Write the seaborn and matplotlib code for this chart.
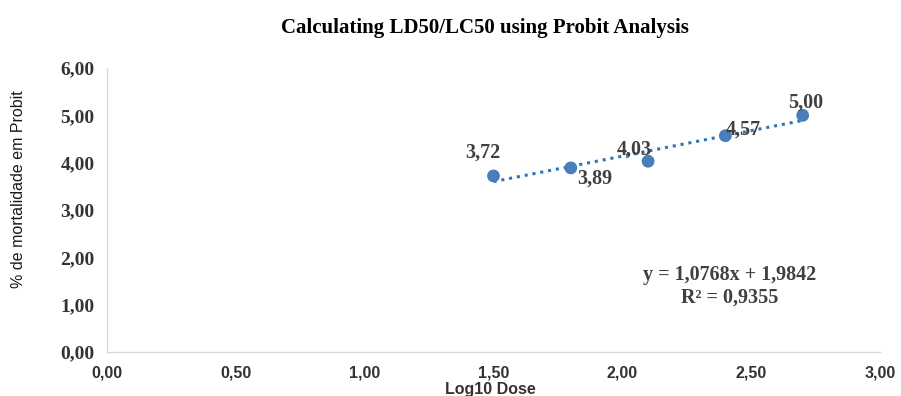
import matplotlib
matplotlib.use("Agg")
import matplotlib.pyplot as plt
import seaborn as sns
import pandas as pd

# Data
log_dose = [1.50, 1.80, 2.10, 2.40, 2.70]
probit = [3.72, 3.89, 4.03, 4.57, 5.00]
point_labels = ["3,72", "3,89", "4,03", "4,57", "5,00"]
slope = 1.0768
intercept = 1.9842
r_squared = 0.9355
x_ticks = [0.0, 0.5, 1.0, 1.5, 2.0, 2.5, 3.0]
y_ticks = [0, 1, 2, 3, 4, 5, 6]

title = "Calculating LD50/LC50 using Probit Analysis"
x_label = "Log10 Dose"
y_label = "% de mortalidade em Probit"


def fmt(v, nd=2):
    return f"{v:.{nd}f}".replace(".", ",")


sns.set_theme(style="white")
plt.rcParams['font.family'] = ['DejaVu Sans']

df = pd.DataFrame({"x": log_dose, "y": probit})
trend = pd.DataFrame({"x": [log_dose[0], log_dose[-1]]})
trend["y"] = slope * trend["x"] + intercept

fig = plt.figure(figsize=(9.01, 3.96), dpi=100)
ax = fig.add_axes([107/901, 1-352/396, (880-107)/901, (352-68)/396])

sns.lineplot(data=trend, x="x", y="y", ax=ax, color="#2E75B6",
             linestyle=(0, (1, 1.6)), linewidth=2.2)
sns.scatterplot(data=df, x="x", y="y", ax=ax, color="#4A7EBB", s=85,
                edgecolor="none", zorder=3)

offsets = [(-11, 23), (24, -11), (-14, 12), (18, 6), (3, 13)]
for xv, yv, lab, off in zip(log_dose, probit, point_labels, offsets):
    ax.annotate(lab, (xv, yv), xytext=off, textcoords="offset pixels",
                ha="center", va="center", fontsize=14.5, fontweight="bold",
                family="Liberation Serif", color="#404040")

ax.set_xlim(0, 3)
ax.set_ylim(0, 6)
ax.set_xticks(x_ticks)
ax.set_yticks(y_ticks)
ax.set_xticklabels([fmt(v) for v in x_ticks],
                   fontsize=11.5, fontweight="bold", family="Liberation Sans",
                   color="#333333")
ax.set_yticklabels([fmt(v) for v in y_ticks],
                   fontsize=14, fontweight="bold", family="Liberation Serif",
                   color="#333333")
ax.tick_params(axis="both", length=0)
ax.tick_params(axis="x", pad=10)
ax.tick_params(axis="y", pad=9)

ax.set_xlabel(x_label, fontsize=11.5, fontweight="bold", family="Liberation Sans",
              color="#333333")
ax.xaxis.set_label_coords((490-107)/773, -(382-352)/284)
ax.set_ylabel(y_label, fontsize=11.5, family="Liberation Sans",
              color="#1a1a1a")
ax.yaxis.set_label_coords((26-107)/773, (352-189)/284)

for side in ["top", "right"]:
    ax.spines[side].set_visible(False)
for side in ["left", "bottom"]:
    ax.spines[side].set_color("#D9D9D9")
    ax.spines[side].set_linewidth(1)

eq_text = f"y = {fmt(slope, 4)}x + {fmt(intercept, 4)}"
r2_text = f"R² = {fmt(r_squared, 4)}"
fig.text(730/901, 1-275/396, eq_text, fontsize=14.5, fontweight="bold",
         family="Liberation Serif", color="#404040", ha="center", va="center")
fig.text(730/901, 1-298/396, r2_text, fontsize=14.5, fontweight="bold",
         family="Liberation Serif", color="#404040", ha="center", va="center")

fig.text(485/901, 1-28/396, title, fontsize=15, fontweight="bold",
         family="Liberation Serif", color="black", ha="center", va="center")

fig.savefig("out.png", dpi=100)
